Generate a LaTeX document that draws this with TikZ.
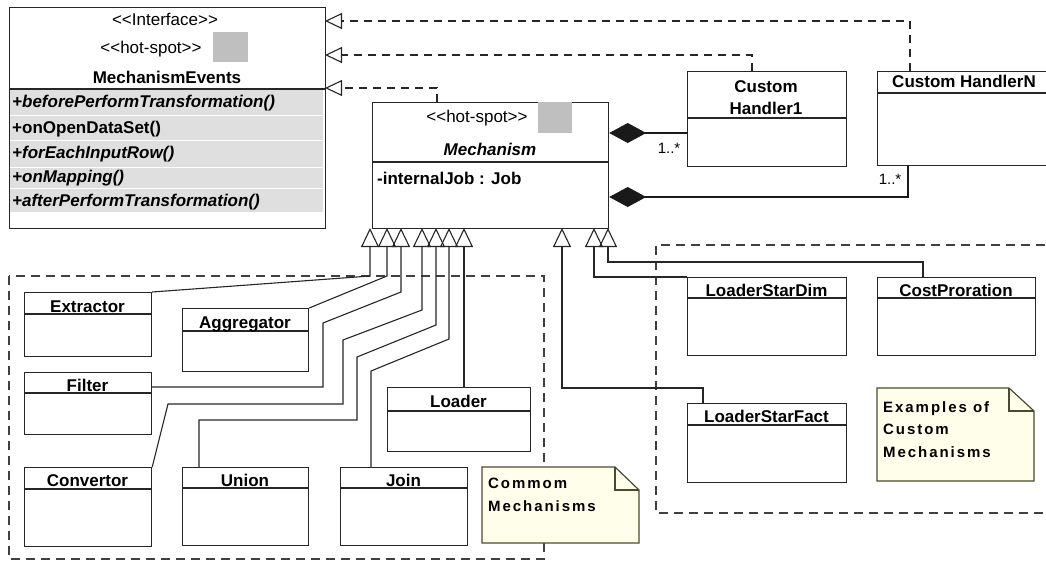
\documentclass[tikz,border=0pt]{standalone}
\usepackage{fontspec}
\setmainfont{Liberation Sans}
\usetikzlibrary{arrows.meta,calc}

\newcommand\guil[1]{\textless\kern0pt\textless #1\textgreater\kern0pt\textgreater}

\tikzset{
  classbox/.style={draw=black!85, line width=1.2pt, fill=white, anchor=north west, inner sep=0pt},
  classline/.style={draw=black!85, line width=1.2pt},
  classname/.style={anchor=base, inner sep=0pt, font=\fontsize{17}{22}\selectfont\bfseries},
  stereo/.style={anchor=base, inner sep=0pt, font=\fontsize{17}{20}\selectfont},
  method/.style={anchor=base west, inner sep=0pt, font=\fontsize{17}{20}\selectfont\bfseries},
  abstract/.style={method, font=\fontsize{17}{20}\selectfont\bfseries\itshape},
  mult/.style={anchor=base, inner sep=0pt, font=\fontsize{15}{18}\selectfont},
  notebox/.style={draw=olive!40!black, fill=yellow!8, line width=1.2pt},
  notefold/.style={draw=olive!40!black, line width=1.2pt},
  notetext/.style={anchor=base west, align=left, inner sep=0pt,
    font=\fontsize{15}{22.5}\selectfont\bfseries\addfontfeatures{LetterSpace=13}},
  gen/.style={-{Triangle[open,length=19pt,width=18pt]}, draw=black!85, line width=1.1pt},
  real/.style={-{Triangle[open,length=17pt,width=16pt]}, draw=black!85, dash pattern=on 8pt off 6pt, line width=1.1pt},
  comp/.style={{Diamond[length=37pt,width=20pt]}-, draw=black!90, line width=1.1pt},
  group/.style={draw=black!75, dash pattern=on 9pt off 6pt, line width=1.1pt},
}

\begin{document}
\begin{tikzpicture}[x=1pt,y=-1pt]

\def\HOTCOLOR{gray!50}
\def\METHODCOLOR{gray!25}
    \useasboundingbox (0,0) rectangle (1046,560);
    \clip (0,0) rectangle (1046,560);

    % groups of mechanisms
    \draw[group] (9,276) rectangle (544,559);
    \draw[group] (1060,245) -- (656,245) -- (656,513) -- (1060,513);

    % interface MechanismEvents
    \node[classbox, minimum width=316, minimum height=221] (events) at (9,7) {};
    \fill[\METHODCOLOR] (10,89) rectangle (323,212);
    \foreach \y in {115,140,167,188}
        \draw[white, line width=0.6pt] (10,\y) -- (323,\y);
    \draw[classline] (events.north west) ++(0,82) -- ++(316,0);
    \fill[\HOTCOLOR] (213,32) rectangle (248,62);
    \node[stereo] (events-st) at (165,25) {\guil{Interface}};
    \node[stereo] (events-hs) at (151,53) {\guil{hot-spot}};
    \node[classname] (events-t) at (167,83) {MechanismEvents};
    \node[abstract] (events-m1) at (12,107) {+beforePerformTransformation()};
    \node[method] (events-m2) at (12,133) {+onOpenDataSet()};
    \node[abstract] (events-m3) at (12,158) {+forEachInputRow()};
    \node[abstract] (events-m4) at (12,182) {+onMapping()};
    \node[abstract] (events-m5) at (12,206) {+afterPerformTransformation()};
    \coordinate (r1) at (325,21);
    \coordinate (r2) at (325,55);
    \coordinate (r3) at (325,88);

    % Mechanism
    \node[classbox, minimum width=236, minimum height=126] (mech) at (372,102) {};
    \draw[classline] (mech.north west) ++(0,60) -- ++(236,0);
    \fill[\HOTCOLOR] (538,102) rectangle (572,133);
    \node[stereo] (mech-hs) at (477,122) {\guil{hot-spot}};
    \node[classname, font=\fontsize{17}{20}\selectfont\bfseries\itshape] (mech-t) at (490,155) {Mechanism};
    \node[method] (mech-a) at (377,184) {-internalJob : Job};
    \foreach \n/\x in {1/370,2/387,3/401,4/422,5/436,6/449,7/464,8/562,9/594,10/608}
        \coordinate (g\n) at (\x,228);

    % custom handlers
    \node[classbox, minimum width=159, minimum height=95] (ch1) at (687,71) {};
    \draw[classline] (ch1.north west) ++(0,47) -- ++(159,0);
    \node[classname, align=center] (ch1-t) at (766,114) {Custom\\Handler1};
    \node[classbox, minimum width=175, minimum height=94] (chn) at (877,71) {};
    \draw[classline] (chn.north west) ++(0,22) -- ++(175,0);
    \node[classname] (chn-t) at (964,87) {Custom HandlerN};

    % common mechanisms
    \node[classbox, minimum width=127, minimum height=64] (extr) at (24,292) {};
    \draw[classline] (extr.north west) ++(0,22) -- ++(127,0);
    \node[classname] (extr-t) at (87.5,312) {Extractor};
    \node[classbox, minimum width=126, minimum height=63] (aggr) at (182,308) {};
    \draw[classline] (aggr.north west) ++(0,23) -- ++(126,0);
    \node[classname] (aggr-t) at (245,328) {Aggregator};
    \node[classbox, minimum width=127, minimum height=62] (filt) at (24,372) {};
    \draw[classline] (filt.north west) ++(0,21) -- ++(127,0);
    \node[classname] (filt-t) at (87.5,391) {Filter};
    \node[classbox, minimum width=127, minimum height=79] (conv) at (24,467) {};
    \draw[classline] (conv.north west) ++(0,22) -- ++(127,0);
    \node[classname] (conv-t) at (87.5,486) {Convertor};
    \node[classbox, minimum width=126, minimum height=78] (union) at (182,467) {};
    \draw[classline] (union.north west) ++(0,21) -- ++(126,0);
    \node[classname] (union-t) at (245,486) {Union};
    \node[classbox, minimum width=127, minimum height=78] (join) at (340,467) {};
    \draw[classline] (join.north west) ++(0,21) -- ++(127,0);
    \node[classname] (join-t) at (403.5,486) {Join};
    \node[classbox, minimum width=143, minimum height=64] (loader) at (387,387) {};
    \draw[classline] (loader.north west) ++(0,24) -- ++(143,0);
    \node[classname] (loader-t) at (458.5,407) {Loader};

    % custom mechanisms
    \node[classbox, minimum width=159, minimum height=78] (lsdim) at (687,277) {};
    \draw[classline] (lsdim.north west) ++(0,21) -- ++(159,0);
    \node[classname] (lsdim-t) at (766.5,296) {LoaderStarDim};
    \node[classbox, minimum width=158, minimum height=78] (cost) at (877,277) {};
    \draw[classline] (cost.north west) ++(0,21) -- ++(158,0);
    \node[classname] (cost-t) at (956,296) {CostProration};
    \node[classbox, minimum width=159, minimum height=79] (lsfact) at (687,403) {};
    \draw[classline] (lsfact.north west) ++(0,22) -- ++(159,0);
    \node[classname] (lsfact-t) at (766.5,422) {LoaderStarFact};

    % notes
    \draw[notebox] (482,467) -- (615,467) -- (639,490) -- (639,543) -- (482,543) -- cycle;
    \draw[notefold] (615,467) |- (639,490);
    \node[notetext] (note-common) at (488,511) {Commom\\Mechanisms};
    \draw[notebox] (877,388) -- (1009,388) -- (1034,411) -- (1034,481) -- (877,481) -- cycle;
    \draw[notefold] (1009,388) |- (1034,411);
    \node[notetext] (note-custom) at (883,457) {Examples of\\Custom\\Mechanisms};

    % realizations of the interface
    \draw[real] (chn.north west) ++(33,0) |- (r1);
    \draw[real] (ch1.north west) ++(65,0) |- (r2);
    \draw[real] (mech.north west) ++(65,0) |- (r3);

    % compositions
    \draw[comp] (mech.north east) ++(0,31) -- ++(79,0);
    \draw[comp] (mech.north east) ++(0,95) -| ($(chn.south west)+(31,0)$);
    \node[mult] (m1) at (669,153) {1..*};
    \node[mult] (m2) at (890,184) {1..*};

    % generalizations
    \draw[gen] (extr.north east) -- (370,276) -- (g1);
    \draw[gen] (aggr.north east) -- (387,276) -- (g2);
    \draw[gen] (filt.north east) ++(0,15) -- (323,387) -- (323,323) -- (401,292) -- (g3);
    \draw[gen] (conv.north east) -- (168,404) -- (343,404) -- (343,340) -- (422,310) -- (g4);
    \draw[gen] (union.north west) ++(17,0) -- (199,420) -- (357,420) -- (357,357) -- (436,325) -- (g5);
    \draw[gen] (join.north west) ++(31,0) -- (371,371) -- (449,339) -- (g6);
    \draw[gen] (loader.north west) ++(77,0) -- (g7);
    \draw[gen] (lsfact.north west) ++(16,0) |- (562,388) -- (g8);
    \draw[gen] (lsdim.north west) -| (g9);
    \draw[gen] (cost.north west) ++(46,0) |- (608,262) -- (g10);

\end{tikzpicture}
\end{document}
